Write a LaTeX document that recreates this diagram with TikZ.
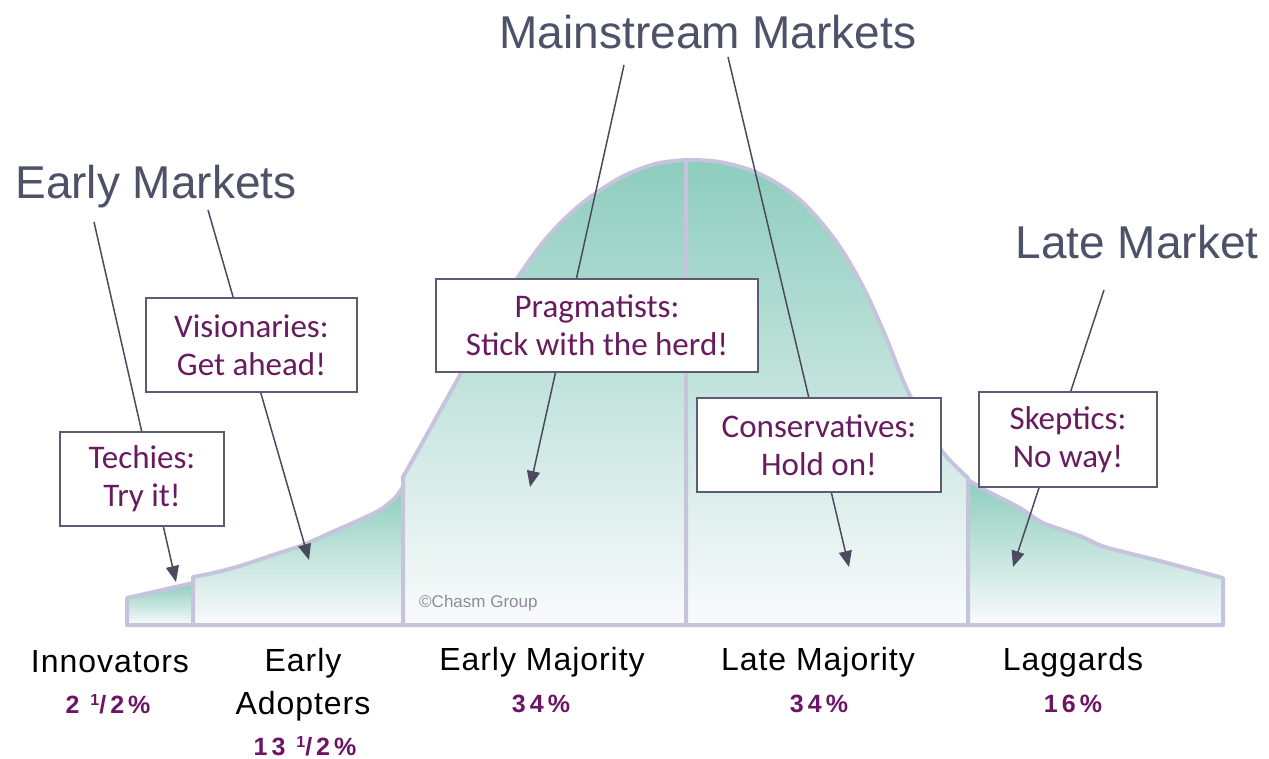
\documentclass[tikz,border=0pt]{standalone}
\usepackage{fontspec}
\setmainfont{Liberation Sans}
\newfontfamily\boxfont{Carlito}
\newfontfamily\labfont[LetterSpace=3]{Liberation Sans}
\newfontfamily\pctfont[LetterSpace=16]{Liberation Sans}
\usetikzlibrary{arrows.meta}
\pgfdeclarelayer{bg}
\pgfdeclarelayer{conn}
\pgfsetlayers{bg,conn,main}
\definecolor{cTeal}{HTML}{8DCDBE}
\definecolor{cPale}{HTML}{FAFBFC}
\definecolor{cLine}{HTML}{C6C4DC}
\definecolor{cBox}{HTML}{5D5A73}
\definecolor{cBoxText}{HTML}{691B5F}
\definecolor{cArrow}{HTML}{4C4A60}
\definecolor{cTitle}{HTML}{4D5268}
\definecolor{cPct}{HTML}{6E1466}
\definecolor{cCopy}{HTML}{8C8AA0}
\tikzset{
  seg/.style={top color=cTeal, bottom color=cPale, draw=cLine, line width=4pt, line join=round},
  callout/.style={draw=cBox, fill=white, line width=1.6pt, inner sep=0pt, align=center,
    text=cBoxText, font=\boxfont\fontsize{33}{38}\selectfont},
  title/.style={text=cTitle, inner sep=0pt, font=\fontsize{46}{50}\selectfont},
  grp/.style={inner sep=0pt, align=center, font=\labfont\fontsize{32}{43}\selectfont},
  pct/.style={inner sep=0pt, text=cPct, font=\pctfont\bfseries\fontsize{25}{30}\selectfont},
  conn/.style={draw=cArrow, line width=1.5pt, -{Triangle[length=16pt,width=13pt]}}
}
\newcommand{\frc}{\raisebox{0.6ex}{\fontsize{16}{16}\selectfont 1}/2}
\begin{document}
\begin{tikzpicture}[x=1pt,y=-1pt]
\useasboundingbox (0,0) rectangle (1269,759);
\begin{pgfonlayer}{bg}
\fill[white] (0,0) rectangle (1269,759);
% Innovators
\shadedraw[seg] (127,625) -- (127,598) -- (193,583) -- (193,625) -- cycle;
% Early adopters
\shadedraw[seg] (193,625) -- plot[smooth, tension=0.5] coordinates {(193,577)(213,573)(240,566)(270,556)(303,545)(330,533)(355,522)(380,510)(395,498)(403,487)} -- (403,625) -- cycle;
% Early majority
\shadedraw[seg] (403,625) -- plot[smooth, tension=0.55] coordinates {(403,477)(420,447)(440,411)(460,375)(482,334)(510,289)(545,240)(580,205)(620,178)(655,164)(686,160)} -- (686,625) -- cycle;
% Late majority
\shadedraw[seg] (686,625) -- plot[smooth, tension=0.55] coordinates {(686,160)(720,162)(760,174)(800,200)(835,240)(862,285)(885,335)(905,385)(925,425)(945,455)(968,478)} -- (968,625) -- cycle;
% Laggards
\shadedraw[seg] (968,625) -- plot[smooth, tension=0.4] coordinates {(968,480)(985,490)(1020,508)(1043,523)(1080,536)(1105,547)(1160,561)(1223,578)} -- (1223,625) -- cycle;
\end{pgfonlayer}

% titles
\node[title] (early) at (156,187) {Early Markets};
\node[title] (main) at (708,32) {Mainstream Markets};
\node[title] (late) at (1137,242) {Late Market};

% callout boxes
\node[callout, minimum width=164pt, minimum height=94pt] (techies) at (142,479) {Techies:\\Try it!};
\node[callout, minimum width=211pt, minimum height=94pt] (vision) at (251.5,345) {Visionaries:\\Get ahead!};
\node[callout, minimum width=322pt, minimum height=93pt] (prag) at (597,325.5) {Pragmatists:\\Stick with the herd!};
\node[callout, minimum width=244pt, minimum height=94pt] (cons) at (819,445) {Conservatives:\\Hold on!};
\node[callout, minimum width=178pt, minimum height=95pt] (skep) at (1068,439.5) {Skeptics:\\No way!};

% connector ends
\coordinate (s1) at (94,222);  \coordinate (t1) at (176,582);
\coordinate (s2) at (208,210); \coordinate (t2) at (309,560);
\coordinate (s3) at (624,65);  \coordinate (t3) at (530,487);
\coordinate (s4) at (728,57);  \coordinate (t4) at (849,567);
\coordinate (s5) at (1104,290); \coordinate (t5) at (1013,567);
\begin{pgfonlayer}{conn}
\draw[conn] (s1) -- (t1);
\draw[conn] (s2) -- (t2);
\draw[conn] (s3) -- (t3);
\draw[conn] (s4) -- (t4);
\draw[conn] (s5) -- (t5);
\end{pgfonlayer}

% copyright
\node[anchor=west, inner sep=0pt, text=cCopy, font=\fontsize{17}{17}\selectfont] (copy) at (419,603) {\textcopyright Chasm Group};

% group labels
\node[grp] (innov) at (110,662) {Innovators};
\node[pct] (pinnov) at (108,704) {2 \frc\%};
\node[grp, anchor=north] (adopt) at (303,648) {Early\\Adopters};
\node[pct] (padopt) at (305,746) {13 \frc\%};
\node[grp] (emaj) at (542,662) {Early Majority};
\node[pct] (pemaj) at (541,704) {34\%};
\node[grp] (lmaj) at (818,662) {Late Majority};
\node[pct] (plmaj) at (819,704) {34\%};
\node[grp] (lag) at (1073,662) {Laggards};
\node[pct] (plag) at (1073,704) {16\%};
\end{tikzpicture}
\end{document}
